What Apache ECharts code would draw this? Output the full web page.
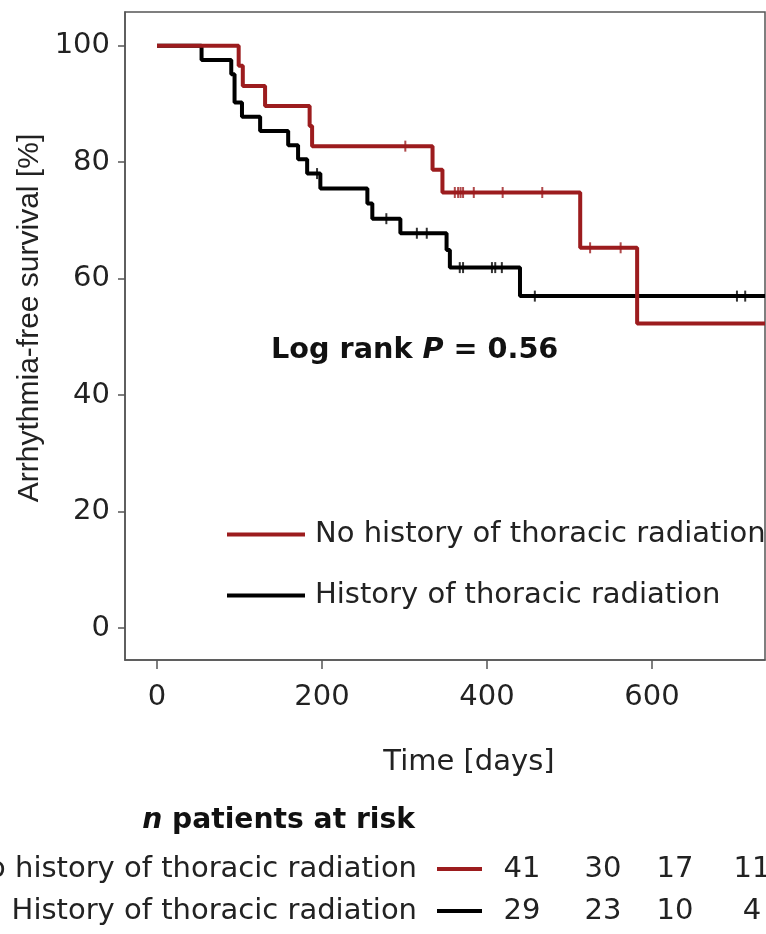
<!DOCTYPE html>
<html>
<head>
<meta charset="utf-8">
<script src="https://cdn.jsdelivr.net/npm/echarts@6/dist/echarts.min.js"></script>
<style>
  html, body { margin: 0; padding: 0; background: #fff; }
  #chart { width: 766px; height: 934px; }
</style>
</head>
<body>
<div id="chart"></div>
<script>
// ---------------- data ----------------
const groupNames = ['No history of thoracic radiation', 'History of thoracic radiation'];

// Kaplan-Meier steps: event times (days) and survival (%) after each step
const redTimes = [0, 99, 104, 131, 185, 188, 334, 346, 513, 582];
const redSurv  = [100, 96.55, 93.10, 89.66, 86.21, 82.76, 78.7, 74.8, 65.3, 52.3];
const redCensor = [301, 361, 365, 368, 371, 384, 419, 467, 525, 562];

const blackTimes = [0, 54, 90, 94, 103, 125, 159, 171, 182, 198, 255, 261, 295, 351, 355, 440];
const blackSurv  = [100, 97.56, 95.12, 90.24, 87.80, 85.37, 82.93, 80.49, 78.05, 75.5, 72.9, 70.3, 67.8, 64.9, 61.9, 57.0];
const blackCensor = [194, 278, 315, 327, 367, 371, 406, 410, 418, 458, 703, 713];

const followUpEnd = 737;

const xTicks = [0, 200, 400, 600];
const yTicks = [0, 20, 40, 60, 80, 100];

const atRiskRed   = [41, 30, 17, 11];
const atRiskBlack = [29, 23, 10, 4];

const pValueText = '0.56';

// ---------------- layout / style ----------------
const RED = '#9c1c1e';
const BLACK = '#000000';
const TEXT = '#222222';
const FONT = 'DejaVu Sans';
const atRiskColX = [522, 603, 675, 752];

function kmData(times, surv) {
  const d = times.map((t, i) => [t, surv[i]]);
  d.push([followUpEnd, surv[surv.length - 1]]);
  return d;
}
function survAt(times, surv, t) {
  let v = surv[0];
  for (let i = 0; i < times.length; i++) { if (times[i] <= t) v = surv[i]; }
  return v;
}
function censorData(cens, times, surv) {
  return cens.map(t => [t, survAt(times, surv, t)]);
}

const chart = echarts.init(document.getElementById('chart'), null, { renderer: 'canvas' });

const numTexts = [];
[atRiskRed, atRiskBlack].forEach((row, r) => {
  row.forEach((n, i) => {
    numTexts.push({
      type: 'text', x: atRiskColX[i], y: r === 0 ? 869 : 911,
      style: { text: String(n), fontSize: 29, fontFamily: FONT, fill: TEXT, align: 'center', verticalAlign: 'middle' }
    });
  });
});

const option = {
  animation: false,
  backgroundColor: '#fff',
  grid: { left: 125, right: 1, top: 12, bottom: 274, show: true, borderColor: '#555', borderWidth: 1.5, containLabel: false },
  xAxis: {
    type: 'value', min: -38.8, max: followUpEnd,
    axisLine: { show: true, onZero: false, lineStyle: { color: '#555', width: 1.5 } },
    axisTick: { show: true, length: 9, inside: false, customValues: xTicks, lineStyle: { color: '#555', width: 1.5 } },
    axisLabel: { customValues: xTicks, fontSize: 29, fontFamily: FONT, color: TEXT, margin: 23 },
    splitLine: { show: false }
  },
  yAxis: {
    type: 'value', min: -5.5, max: 105.8,
    axisLine: { show: true, onZero: false, lineStyle: { color: '#555', width: 1.5 } },
    axisTick: { show: true, length: 7, inside: false, customValues: yTicks, lineStyle: { color: '#555', width: 1.5 } },
    axisLabel: { customValues: yTicks, fontSize: 29, fontFamily: FONT, color: TEXT, margin: 15 },
    splitLine: { show: false }
  },
  legend: {
    data: groupNames,
    orient: 'vertical', left: 222, top: 515,
    icon: 'rect', itemWidth: 78, itemHeight: 4, itemGap: 32,
    textStyle: { fontSize: 29, fontFamily: FONT, color: TEXT, padding: [0, 0, 0, 5] },
    selectedMode: false
  },
  series: [
    {
      name: groupNames[1], type: 'line', step: 'end', showSymbol: false, z: 3,
      data: kmData(blackTimes, blackSurv),
      lineStyle: { color: BLACK, width: 4 }, itemStyle: { color: BLACK }
    },
    {
      name: 'censor-black', type: 'scatter', symbol: 'rect', symbolSize: [2, 11], z: 4,
      data: censorData(blackCensor, blackTimes, blackSurv), itemStyle: { color: BLACK }
    },
    {
      name: groupNames[0], type: 'line', step: 'end', showSymbol: false, z: 5,
      data: kmData(redTimes, redSurv),
      lineStyle: { color: RED, width: 4 }, itemStyle: { color: RED }
    },
    {
      name: 'censor-red', type: 'scatter', symbol: 'rect', symbolSize: [2, 11], z: 6,
      data: censorData(redCensor, redTimes, redSurv), itemStyle: { color: RED }
    }
  ],
  graphic: [
    { type: 'text', x: 29.5, y: 318, rotation: Math.PI / 2,
      style: { text: 'Arrhythmia-free survival [%]', fontSize: 30, fontFamily: 'Liberation Sans', fill: TEXT, align: 'center', verticalAlign: 'middle' } },
    { type: 'text', x: 469, y: 762,
      style: { text: 'Time [days]', fontSize: 29, fontFamily: FONT, fill: TEXT, align: 'center', verticalAlign: 'middle' } },
    { type: 'text', x: 271, y: 351,
      style: { text: '{b|Log rank }{bi|P}{b| = ' + pValueText + '}', align: 'left', verticalAlign: 'middle',
        rich: { b: { fontSize: 28.7, fontFamily: FONT, fontWeight: 'bold', fill: '#111' },
                bi: { fontSize: 28.7, fontFamily: FONT, fontWeight: 'bold', fontStyle: 'italic', fill: '#111' } } } },
    { type: 'text', x: 415, y: 821,
      style: { text: '{bi|n}{b| patients at risk}', align: 'right', verticalAlign: 'middle',
        rich: { b: { fontSize: 28.2, fontFamily: FONT, fontWeight: 'bold', fill: '#111' },
                bi: { fontSize: 28.2, fontFamily: FONT, fontWeight: 'bold', fontStyle: 'italic', fill: '#111' } } } },
    { type: 'text', x: 417, y: 869,
      style: { text: groupNames[0], fontSize: 29, fontFamily: FONT, fill: TEXT, align: 'right', verticalAlign: 'middle' } },
    { type: 'text', x: 417, y: 911,
      style: { text: groupNames[1], fontSize: 29, fontFamily: FONT, fill: TEXT, align: 'right', verticalAlign: 'middle' } },
    { type: 'line', shape: { x1: 437, y1: 869, x2: 482, y2: 869 }, style: { stroke: RED, lineWidth: 4 } },
    { type: 'line', shape: { x1: 437, y1: 911, x2: 482, y2: 911 }, style: { stroke: BLACK, lineWidth: 4 } }
  ].concat(numTexts)
};

chart.setOption(option);
</script>
</body>
</html>
